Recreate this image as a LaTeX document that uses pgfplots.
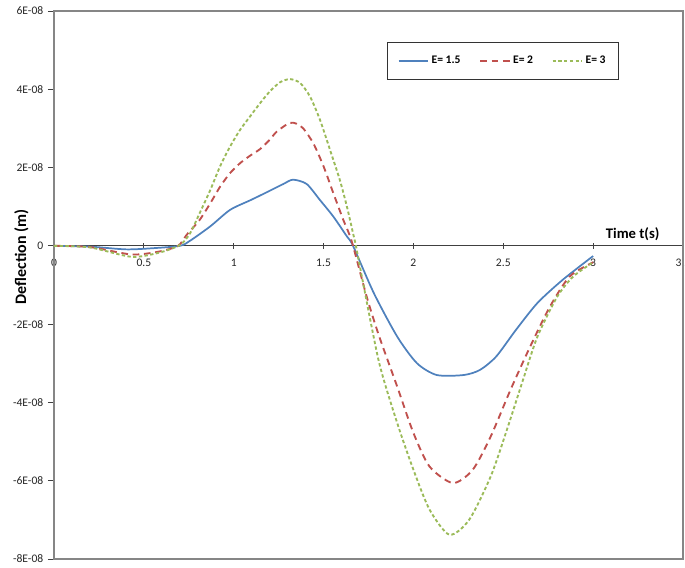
\documentclass[border=0pt]{standalone}
\usepackage{pgfplots}
\pgfplotsset{compat=1.18}
\usepackage{fontspec}
\setmainfont{Carlito}
\definecolor{xblue}{RGB}{79,129,189}
\definecolor{xred}{RGB}{192,80,77}
\definecolor{xgreen}{RGB}{155,187,89}
\definecolor{frame}{RGB}{134,134,134}

\begin{document}
\begin{tikzpicture}
\begin{axis}[
    width=471.75pt, height=411pt,
    scale only axis,
    clip=false,
    xmin=0, xmax=3.5,
    ymin=-8e-8, ymax=6e-8,
    axis x line=middle,
    axis y line=left,
    axis line style={-, black!75, line width=0.8pt},
    hide obscured x ticks=false,
    hide obscured y ticks=false,
    xtick={0,0.5,1,1.5,2,2.5,3,3.5},
    xticklabels={0,0.5,1,1.5,2,2.5,3,3.5},
    ytick={-8e-8,-6e-8,-4e-8,-2e-8,0,2e-8,4e-8,6e-8},
    yticklabels={-8E-08,-6E-08,-4E-08,-2E-08,0,2E-08,4E-08,6E-08},
    xtick align=center,
    ytick align=outside,
    major tick length=4.5pt,
    tick style={black!75, line width=0.6pt},
    /pgf/number format/assume math mode=true,
    tick label style={font=\fontsize{8.7}{10}\selectfont, text=black!85},
    x tick label style={yshift=-4pt},
    ylabel={Deflection (m)},
    ylabel style={font=\fontsize{12}{14}\selectfont\bfseries, at={(rel axis cs:-0.052,0.551)}, anchor=center},
    legend columns=3,
    legend style={at={(rel axis cs:0.529,0.943)}, anchor=north west,
        draw=black!80, line width=0.6pt, font=\fontsize{8.7}{10}\selectfont\bfseries,
        inner xsep=8pt, inner ysep=8pt,
        /tikz/every even column/.append style={column sep=12pt}},
    legend cell align=left,
    legend image code/.code={\draw[#1, line width=1.4pt] (0pt,0pt) -- (22pt,0pt);},
]
\draw[frame, line width=0.8pt] (rel axis cs:0,0) rectangle (rel axis cs:1,1);
\coordinate (bl) at (rel axis cs:0,0);
\coordinate (tr) at (rel axis cs:1,1);

\addplot[xblue, line width=1.3pt, smooth, tension=0.45] coordinates {
    (0,0) (0.2,-0.02e-8) (0.4,-0.09e-8) (0.55,-0.06e-8) (0.7,0)
    (0.757,0.13e-8) (0.87,0.5e-8) (0.98,0.92e-8) (1.09,1.16e-8) (1.18,1.36e-8)
    (1.276,1.58e-8) (1.33,1.69e-8) (1.406,1.58e-8) (1.48,1.17e-8) (1.554,0.75e-8)
    (1.63,0.24e-8) (1.664,0)
    (1.78,-1.21e-8) (1.91,-2.32e-8) (2.02,-3.0e-8) (2.13,-3.3e-8) (2.28,-3.3e-8)
    (2.37,-3.17e-8) (2.46,-2.83e-8) (2.57,-2.15e-8) (2.69,-1.46e-8) (2.83,-0.87e-8)
    (3.0,-0.26e-8)
};
\addlegendentry{E= 1.5}

\addplot[xred, line width=1.4pt, dash pattern=on 5pt off 3.5pt, smooth, tension=0.45] coordinates {
    (0,0) (0.2,-0.03e-8) (0.43,-0.22e-8) (0.58,-0.15e-8) (0.69,0)
    (0.738,0.28e-8) (0.81,0.66e-8) (0.87,1.09e-8) (0.924,1.51e-8) (0.98,1.86e-8)
    (1.035,2.11e-8) (1.09,2.3e-8) (1.146,2.47e-8) (1.2,2.71e-8) (1.24,2.92e-8)
    (1.31,3.14e-8) (1.35,3.12e-8) (1.387,3.0e-8) (1.443,2.62e-8) (1.5,2.03e-8)
    (1.554,1.35e-8) (1.61,0.66e-8) (1.657,0.11e-8)
    (1.74,-1.3e-8) (1.81,-2.32e-8) (1.91,-3.6e-8) (2.0,-4.78e-8)
    (2.09,-5.64e-8) (2.22,-6.06e-8) (2.33,-5.72e-8) (2.43,-4.87e-8) (2.54,-3.68e-8)
    (2.65,-2.57e-8) (2.76,-1.55e-8) (2.87,-0.78e-8) (3.0,-0.42e-8)
};
\addlegendentry{E= 2}

\addplot[xgreen, line width=1.4pt, dash pattern=on 2.5pt off 1.8pt, smooth, tension=0.45] coordinates {
    (0,0) (0.2,-0.04e-8) (0.43,-0.28e-8) (0.58,-0.18e-8) (0.70,0.02e-8)
    (0.757,0.32e-8) (0.81,0.83e-8) (0.87,1.43e-8) (0.924,2.03e-8) (0.98,2.54e-8)
    (1.035,2.96e-8) (1.09,3.3e-8) (1.146,3.64e-8) (1.2,3.94e-8) (1.258,4.18e-8)
    (1.313,4.26e-8) (1.37,4.16e-8) (1.425,3.81e-8) (1.48,3.22e-8) (1.536,2.45e-8)
    (1.59,1.69e-8) (1.63,1.0e-8) (1.664,0.32e-8) (1.68,0)
    (1.72,-0.95e-8) (1.81,-3.0e-8) (1.91,-4.53e-8) (2.0,-5.72e-8)
    (2.09,-6.74e-8) (2.2,-7.38e-8) (2.31,-7.0e-8) (2.43,-5.89e-8) (2.52,-4.7e-8)
    (2.61,-3.42e-8) (2.69,-2.32e-8) (2.8,-1.3e-8) (2.89,-0.78e-8) (3.0,-0.42e-8)
};
\addlegendentry{E= 3}

\node[anchor=south, font=\fontsize{11}{13}\selectfont\bfseries, inner sep=2pt] at (axis cs:3.22,0.05e-8) {Time t(s)};
\end{axis}
\pgfresetboundingbox
\path ([xshift=-40.5pt,yshift=-6.75pt]bl) rectangle ([xshift=1.5pt,yshift=8.25pt]tr);
\end{tikzpicture}
\end{document}
